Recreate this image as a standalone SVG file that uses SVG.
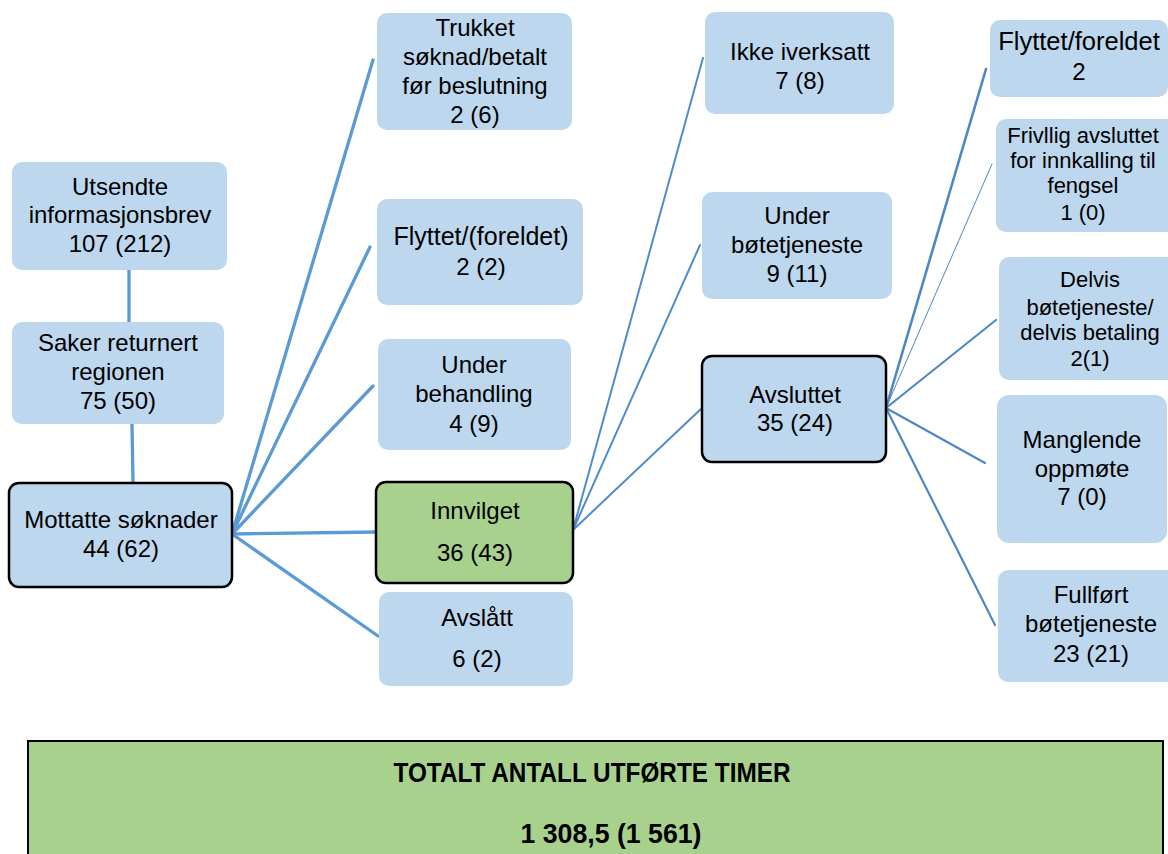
<svg xmlns="http://www.w3.org/2000/svg" width="1168" height="854" viewBox="0 0 1168 854">
<style>
.box{fill:#BDD7EE;}
.bold{fill:#BDD7EE;stroke:#000;stroke-width:2.5;}
.green{fill:#A9D18E;stroke:#000;stroke-width:2.5;}
text{font-family:"Liberation Sans",Arial,sans-serif;font-size:24px;fill:#000;text-anchor:middle;}
.sm{font-size:22px;}
.ttl{font-weight:bold;font-size:28px;}
.ca{stroke:#5B9BD5;stroke-width:3.3;fill:none;stroke-linecap:round;}
.cb{stroke:#4F8CCB;stroke-width:2;fill:none;stroke-linecap:round;}
.cc{stroke:#4C88C6;stroke-width:2.2;fill:none;stroke-linecap:round;}
</style>
<rect width="1168" height="854" fill="#fff"/>
<g id="connectors">
<line class="ca" x1="129" y1="270" x2="129" y2="322"/>
<line class="ca" x1="132" y1="424" x2="133" y2="483"/>
<line class="ca" x1="232" y1="534" x2="373" y2="60"/>
<line class="ca" x1="232" y1="534" x2="370" y2="247"/>
<line class="ca" x1="232" y1="534" x2="373" y2="386"/>
<line class="ca" x1="232" y1="534" x2="377" y2="532"/>
<line class="ca" x1="232" y1="534" x2="378" y2="636"/>
<line class="cb" x1="573" y1="530" x2="703" y2="58"/>
<line class="cb" x1="573" y1="530" x2="700" y2="245"/>
<line class="cb" x1="573" y1="530" x2="702" y2="408"/>
<line class="cc" x1="886" y1="408" x2="986" y2="69" style="stroke-width:2.6"/>
<line class="cc" x1="886" y1="408" x2="992" y2="164" style="stroke-width:1"/>
<line class="cc" x1="886" y1="408" x2="996" y2="320"/>
<line class="cc" x1="886" y1="408" x2="985" y2="463"/>
<line class="cc" x1="886" y1="408" x2="995" y2="625"/>
</g>
<g id="n-utsendte">
<rect class="box" x="12" y="162" width="215" height="108" rx="10"/>
<text x="120" y="195">Utsendte</text>
<text x="120" y="223">informasjonsbrev</text>
<text x="120" y="252">107 (212)</text>
</g>
<g id="n-saker">
<rect class="box" x="12" y="322" width="212" height="102" rx="10"/>
<text x="118" y="351">Saker returnert</text>
<text x="118" y="380">regionen</text>
<text x="118" y="409">75 (50)</text>
</g>
<g id="n-mottatte">
<rect class="bold" x="9" y="483" width="223" height="104" rx="10"/>
<text x="121" y="528">Mottatte søknader</text>
<text x="121" y="557">44 (62)</text>
</g>
<g id="n-trukket">
<rect class="box" x="377" y="13" width="195" height="117" rx="10"/>
<text x="475" y="36">Trukket</text>
<text x="475" y="65">søknad/betalt</text>
<text x="475" y="94">før beslutning</text>
<text x="475" y="123">2 (6)</text>
</g>
<g id="n-flyttet1">
<rect class="box" x="377" y="199" width="206" height="106" rx="10"/>
<text x="481" y="245" style="font-size:25px">Flyttet/(foreldet)</text>
<text x="481" y="275">2 (2)</text>
</g>
<g id="n-underbeh">
<rect class="box" x="378" y="339" width="193" height="111" rx="10"/>
<text x="474" y="373">Under</text>
<text x="474" y="402">behandling</text>
<text x="474" y="432">4 (9)</text>
</g>
<g id="n-innvilget">
<rect class="green" x="376" y="482" width="197" height="101" rx="10"/>
<text x="475" y="519">Innvilget</text>
<text x="475" y="561">36 (43)</text>
</g>
<g id="n-avslatt">
<rect class="box" x="379" y="592" width="194" height="94" rx="10"/>
<text x="477" y="626">Avslått</text>
<text x="477" y="667">6 (2)</text>
</g>
<g id="n-ikke">
<rect class="box" x="705" y="12" width="189" height="102" rx="10"/>
<text x="800" y="60">Ikke iverksatt</text>
<text x="800" y="89">7 (8)</text>
</g>
<g id="n-underbot">
<rect class="box" x="702" y="192" width="190" height="107" rx="10"/>
<text x="797" y="224">Under</text>
<text x="797" y="253">bøtetjeneste</text>
<text x="797" y="282">9 (11)</text>
</g>
<g id="n-avsluttet">
<rect class="bold" x="702" y="356" width="184" height="106" rx="10"/>
<text x="795" y="403">Avsluttet</text>
<text x="795" y="431">35 (24)</text>
</g>
<g id="n-flyttet2">
<rect class="box" x="990" y="20" width="178" height="77" rx="10"/>
<text x="1079" y="50" style="font-size:25.5px">Flyttet/foreldet</text>
<text x="1079" y="80">2</text>
</g>
<g id="n-frivillig">
<rect class="box" x="996" y="119" width="180" height="113" rx="10"/>
<text class="sm" x="1083" y="143">Frivllig avsluttet</text>
<text class="sm" x="1083" y="168">for innkalling til</text>
<text class="sm" x="1083" y="193">fengsel</text>
<text class="sm" x="1083" y="220">1 (0)</text>
</g>
<g id="n-delvis">
<rect class="box" x="999" y="257" width="185" height="123" rx="10"/>
<text class="sm" x="1090" y="287">Delvis</text>
<text class="sm" x="1090" y="315">bøtetjeneste/</text>
<text class="sm" x="1090" y="340">delvis betaling</text>
<text class="sm" x="1090" y="366">2(1)</text>
</g>
<g id="n-manglende">
<rect class="box" x="997" y="395" width="170" height="148" rx="12"/>
<text x="1082" y="448">Manglende</text>
<text x="1082" y="477">oppmøte</text>
<text x="1082" y="505">7 (0)</text>
</g>
<g id="n-fullfort">
<rect class="box" x="998" y="570" width="186" height="112" rx="10"/>
<text x="1091" y="603">Fullført</text>
<text x="1091" y="632">bøtetjeneste</text>
<text x="1091" y="662">23 (21)</text>
</g>
<g id="n-totalt">
<rect x="28" y="741" width="1135" height="130" fill="#A9D18E" stroke="#000" stroke-width="2"/>
<text class="ttl" x="592" y="782" textLength="397" lengthAdjust="spacingAndGlyphs">TOTALT ANTALL UTFØRTE TIMER</text>
<text class="ttl" x="611" y="843" textLength="181" lengthAdjust="spacingAndGlyphs">1 308,5 (1 561)</text>
</g>
</svg>
